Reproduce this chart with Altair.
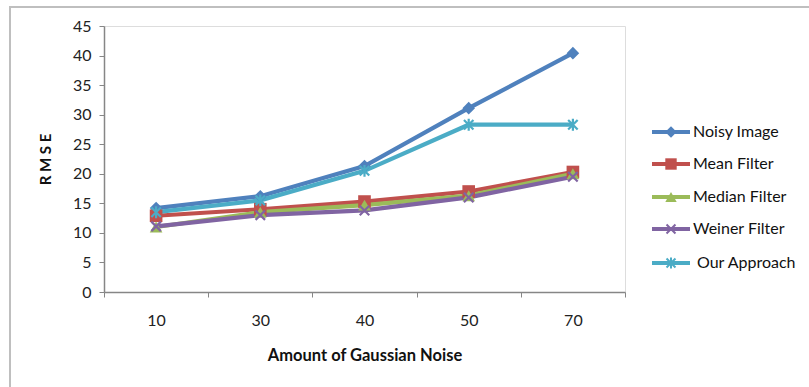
import altair as alt
import pandas as pd

noise = ["10", "30", "40", "50", "70"]
series = ["Noisy Image", "Mean Filter", "Median Filter", "Weiner Filter", "Our Approach"]
noisy = [14.2, 16.2, 21.3, 31.1, 40.4]
mean_f = [12.9, 14.0, 15.3, 17.0, 20.3]
median_f = [11.0, 13.5, 14.7, 16.3, 20.0]
weiner_f = [11.1, 13.0, 13.8, 16.0, 19.5]
ours = [13.5, 15.5, 20.5, 28.3, 28.3]
colors = ["#4F81BD", "#C0504D", "#9BBB59", "#8064A2", "#4BACC6"]

vals = [noisy, mean_f, median_f, weiner_f, ours]
rows = []
for s, v in zip(series, vals):
    for n, y in zip(noise, v):
        rows.append({"noise": n, "series": s, "rmse": y})
df = pd.DataFrame(rows)

X_PATH = "M-1,-1L1,1M-1,1L1,-1"
AST_PATH = "M-1,-1L1,1M-1,1L1,-1M0,-1.25L0,1.25"
shapes = ["diamond", "square", "triangle-up", X_PATH, AST_PATH]

font = "Lato"
LBL = 16
LW = 4.2

x_enc = alt.X(
    "noise:N",
    sort=noise,
    scale=alt.Scale(type="band", paddingInner=0, paddingOuter=0),
    axis=alt.Axis(
        title="Amount of Gaussian Noise",
        tickBand="extent",
        labelAngle=0,
        labelPadding=15,
        titlePadding=19,
        titleFontWeight="bold",
        titleFontSize=16.5,
        labelFontSize=LBL,
        labelColor="#222222",
        titleColor="#111111",
        domainColor="#868686",
        tickColor="#868686",
        tickSize=5,
        domainWidth=1.5,
    ),
)
y_enc = alt.Y(
    "rmse:Q",
    scale=alt.Scale(domain=[0, 45], nice=False),
    axis=alt.Axis(
        title="R M S E",
        values=list(range(0, 50, 5)),
        grid=False,
        labelPadding=8,
        titlePadding=19,
        titleFontWeight="bold",
        titleFontSize=15,
        labelFontSize=LBL,
        labelColor="#222222",
        titleColor="#111111",
        domainColor="#868686",
        tickColor="#868686",
        tickSize=5,
        domainWidth=1.5,
    ),
)
color_scale = alt.Scale(domain=series, range=colors)
shape_scale = alt.Scale(domain=series, range=shapes)

lines = alt.Chart(df).mark_line(strokeWidth=LW).encode(
    x=x_enc,
    y=y_enc,
    color=alt.Color("series:N", scale=color_scale, sort=series, legend=None),
)

filled_pts = alt.Chart(df).mark_point(filled=True, size=160, opacity=1).encode(
    x=x_enc, y=y_enc,
    color=alt.Color("series:N", scale=color_scale, legend=None),
    shape=alt.Shape("series:N", scale=shape_scale, legend=None),
).transform_filter(alt.FieldOneOfPredicate(field="series", oneOf=series[:3]))

stroke_pts = alt.Chart(df).mark_point(filled=False, size=90, strokeWidth=2.2, opacity=1).encode(
    x=x_enc, y=y_enc,
    color=alt.Color("series:N", scale=color_scale, legend=None),
    shape=alt.Shape("series:N", scale=shape_scale, legend=None),
).transform_filter(alt.FieldOneOfPredicate(field="series", oneOf=series[3:]))

# manual legend (line + marker + label), one entry per series
leg_df = pd.DataFrame({"series": series})
leg_rows_y = [106, 138, 171, 203, 237]
leg_layers = []
for i, s in enumerate(series):
    d = leg_df[leg_df["series"] == s]
    yv = leg_rows_y[i]
    base = alt.Chart(d)
    leg_layers.append(
        base.mark_rule(strokeWidth=LW, color=colors[i]).encode(
            x=alt.value(548), x2=alt.value(586), y=alt.value(yv)
        )
    )
    if i < 3:
        leg_layers.append(
            base.mark_point(filled=True, size=130, opacity=1, color=colors[i], shape=shapes[i]).encode(
                x=alt.value(567), y=alt.value(yv)
            )
        )
    else:
        leg_layers.append(
            base.mark_point(filled=False, size=80, strokeWidth=2, opacity=1, color=colors[i],
                            shape=shapes[i]).encode(x=alt.value(567), y=alt.value(yv))
        )
    leg_layers.append(
        base.mark_text(align="left", baseline="middle", fontSize=LBL, color="#111111",
                       dx=(4 if i == 4 else 0)).encode(
            x=alt.value(589), y=alt.value(yv), text="series:N"
        )
    )

border = alt.Chart(pd.DataFrame({"a": [0]})).mark_rect(
    fill=None, stroke="#BFBFBF", strokeWidth=2, clip=False
).encode(x=alt.value(-94), x2=alt.value(800), y=alt.value(-19), y2=alt.value(400))

chart = alt.layer(border, lines, filled_pts, stroke_pts, *leg_layers).properties(
    width=521,
    height=266,
    autosize=alt.AutoSizeParams(type="none"),
    padding={"left": 104, "top": 26, "right": 184, "bottom": 95},
).configure_view(stroke=None).configure(font=font, background="white")

chart.save("out.html", embed_options={"renderer": "svg", "actions": False})
